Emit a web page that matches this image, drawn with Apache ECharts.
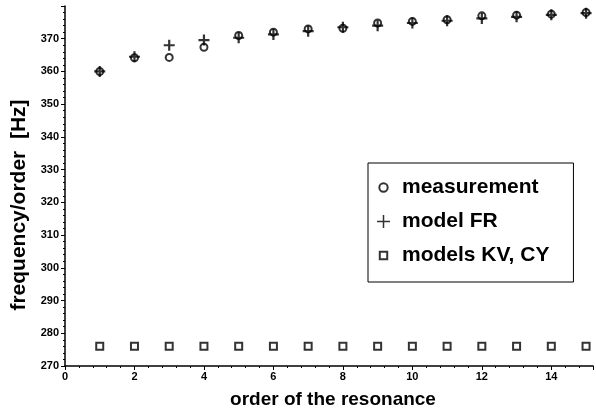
<!DOCTYPE html>
<html>
<head>
<meta charset="utf-8">
<script src="https://cdn.jsdelivr.net/npm/echarts@6/dist/echarts.min.js"></script>
<style>
  html, body { margin: 0; padding: 0; background: #fff; }
  #chart { width: 596px; height: 416px; }
</style>
</head>
<body>
<div id="chart"></div>
<script>
// order of the resonance
const orders = [1, 2, 3, 4, 5, 6, 7, 8, 9, 10, 11, 12, 13, 14, 15]
// frequency/order [Hz]
const measurement = [360, 364.2, 364.3, 367.4, 371, 372, 373, 373.2, 374.8, 375.3, 375.8, 377, 377.2, 377.5, 378]
const modelFR = [360, 364.5, 368, 369.6, 370.3, 371.3, 372.3, 373.5, 374, 374.8, 375.5, 376.2, 376.7, 377.3, 377.8]
const modelsKVCY = [276, 276, 276, 276, 276, 276, 276, 276, 276, 276, 276, 276, 276, 276, 276]

const font = 'Liberation Sans, Arial, sans-serif'
const plusPath = 'path://M4,0H6V4H10V6H6V10H4V6H0V4H4Z'
// legend icons: the leading M points keep every icon in the same 14x14 box
const circleIcon = 'path://M0,0M14,14M11.5,7A4.5,4.5,0,1,0,2.5,7A4.5,4.5,0,1,0,11.5,7Z'
const plusIcon = 'path://M6.2,0H7.8V6.2H14V7.8H7.8V14H6.2V7.8H0V6.2H6.2Z'
const squareIcon = 'path://M0,0M14,14M3,3H11V11H3Z'

const pairs = (ys) => orders.map((x, i) => [x, ys[i]])

const chart = echarts.init(document.getElementById('chart'))

const option = {
  animation: false,
  backgroundColor: '#fff',
  grid: {
    left: 65,
    right: 0,
    top: 6,
    bottom: 50
  },
  xAxis: {
    type: 'value',
    min: 0,
    max: 15.2,
    interval: 2,
    name: 'order of the resonance',
    nameLocation: 'middle',
    nameGap: 24,
    nameTextStyle: { fontFamily: font, fontSize: 19, fontWeight: 'bold', color: '#000', padding: [0, 0, 0, 8] },
    axisLine: { lineStyle: { color: '#000', width: 1.5 } },
    axisTick: { show: true, length: 4, lineStyle: { color: '#000' } },
    minorTick: { show: true, splitNumber: 5, length: 2, lineStyle: { color: '#000' } },
    splitLine: { show: false },
    axisLabel: {
      fontFamily: font,
      fontSize: 11,
      fontWeight: 'bold',
      color: '#000',
      margin: 5,
      formatter: (v) => (v % 2 === 0 ? String(v) : '')
    }
  },
  yAxis: {
    type: 'value',
    min: 270,
    max: 380,
    interval: 10,
    name: 'frequency/order  [Hz]',
    nameLocation: 'middle',
    nameGap: 32,
    nameTextStyle: { fontFamily: font, fontSize: 21, fontWeight: 'bold', color: '#000', padding: [0, 0, 0, -38] },
    axisLine: { lineStyle: { color: '#000', width: 1.5 } },
    axisTick: { show: true, length: 4, lineStyle: { color: '#000' } },
    minorTick: { show: true, splitNumber: 5, length: 2, lineStyle: { color: '#000' } },
    splitLine: { show: false },
    axisLabel: {
      fontFamily: font,
      fontSize: 11,
      fontWeight: 'bold',
      color: '#000',
      margin: 6,
      formatter: (v) => (v === 380 ? '' : String(v))
    }
  },
  legend: {
    orient: 'vertical',
    left: 368,
    top: 163,
    padding: [14, 24, 16, 8],
    itemGap: 13,
    itemWidth: 27,
    itemHeight: 13,
    borderColor: '#000',
    borderWidth: 1,
    textStyle: { fontFamily: font, fontSize: 21, fontWeight: 'bold', color: '#000' },
    data: [
      { name: 'measurement', icon: circleIcon },
      { name: 'model FR', icon: plusIcon },
      { name: 'models KV, CY', icon: squareIcon }
    ]
  },
  series: [
    {
      name: 'measurement',
      type: 'scatter',
      symbol: 'circle',
      symbolSize: 7,
      itemStyle: { color: '#fff', borderColor: '#000', borderWidth: 2 },
      data: pairs(measurement)
    },
    {
      name: 'model FR',
      type: 'scatter',
      symbol: plusPath,
      symbolSize: 11,
      itemStyle: { color: '#000' },
      data: pairs(modelFR)
    },
    {
      name: 'models KV, CY',
      type: 'scatter',
      symbol: 'rect',
      symbolSize: 7,
      itemStyle: { color: '#fff', borderColor: '#000', borderWidth: 2 },
      data: pairs(modelsKVCY)
    }
  ]
}

chart.setOption(option)
</script>
</body>
</html>
